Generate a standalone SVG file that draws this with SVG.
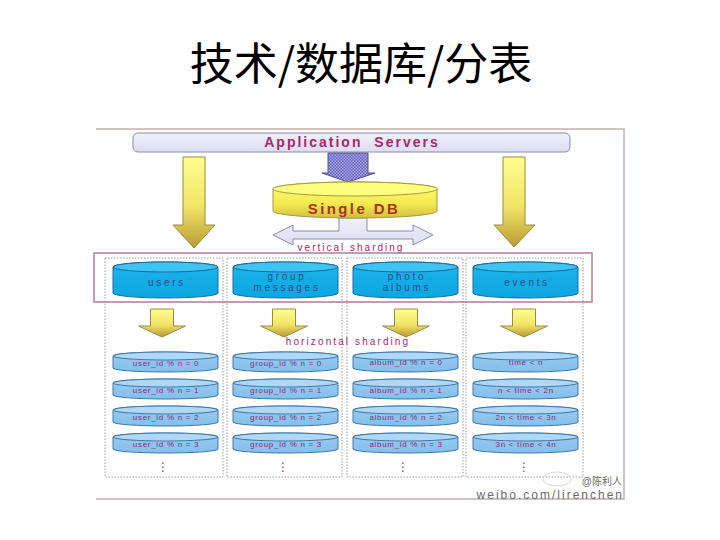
<svg xmlns="http://www.w3.org/2000/svg" width="720" height="540" viewBox="0 0 720 540">
  <style>
    .title { font-family: "Noto Sans CJK SC", "Liberation Sans", sans-serif; font-size: 44px; fill: #000; }
    .lbl { font-family: "Liberation Sans", Arial, sans-serif; fill: #a8286a; }
    .dbl { font-family: "Liberation Sans", Arial, sans-serif; font-size: 10px; letter-spacing: 2.7px; fill: #2a4a8a; text-anchor: middle; }
    .shl { font-family: "Liberation Sans", Arial, sans-serif; font-size: 8px; letter-spacing: 0.7px; fill: #8a2a78; text-anchor: middle; }
    .dots { font-family: "DejaVu Sans", sans-serif; font-size: 12px; fill: #a03070; text-anchor: middle; }
    .col { fill: none; stroke: #9a9a9a; stroke-width: 1; stroke-dasharray: 1.5 1.5; }
    .yarrow { fill: url(#gYellow); stroke: #9a8a40; stroke-width: 1; }
    .bigbody { fill: url(#gBlue); stroke: #1a6aa0; stroke-width: 1; }
    .bigtop { fill: #3ec4f2; stroke: #1a6aa0; stroke-width: 1; }
    .shbody { fill: url(#gLightBlue); stroke: #3c78a8; stroke-width: 1; }
    .shtop { fill: #b0d8f6; stroke: #3c78a8; stroke-width: 1; }
    .wm { font-family: "Liberation Sans", "Noto Sans CJK SC", sans-serif; fill: #6a6a6a; }
  </style>
  <defs>
    <linearGradient id="gYellow" x1="0" y1="0" x2="0" y2="1">
      <stop offset="0" stop-color="#ffff90"/>
      <stop offset="0.55" stop-color="#f2e468"/>
      <stop offset="1" stop-color="#b89c34"/>
    </linearGradient>
    <linearGradient id="gDB" x1="0" y1="0" x2="0" y2="1">
      <stop offset="0" stop-color="#ffff70"/>
      <stop offset="0.6" stop-color="#f4ea50"/>
      <stop offset="1" stop-color="#d2c040"/>
    </linearGradient>
    <linearGradient id="gBlue" x1="0" y1="0" x2="0" y2="1">
      <stop offset="0" stop-color="#1cb4ec"/>
      <stop offset="1" stop-color="#0ca6e0"/>
    </linearGradient>
    <linearGradient id="gLightBlue" x1="0" y1="0" x2="0" y2="1">
      <stop offset="0" stop-color="#9accf2"/>
      <stop offset="1" stop-color="#84bfea"/>
    </linearGradient>
    <linearGradient id="gLav" x1="0" y1="0" x2="0" y2="1">
      <stop offset="0" stop-color="#f0f0fc"/>
      <stop offset="1" stop-color="#dcdcf4"/>
    </linearGradient>
    <pattern id="pCheck" width="3" height="3" patternUnits="userSpaceOnUse">
      <rect width="3" height="3" fill="#6464c0"/>
      <rect width="1.5" height="1.5" fill="#a8a8e8"/>
      <rect x="1.5" y="1.5" width="1.5" height="1.5" fill="#a8a8e8"/>
    </pattern>
    <!-- tall cylinder, 105 x 36 -->
    <g id="cylBig">
      <path class="bigbody" d="M0,5 A52.5,5 0 0 1 105,5 V31 A52.5,5 0 0 1 0,31 Z"/>
      <ellipse class="bigtop" cx="52.5" cy="5" rx="52.5" ry="5"/>
    </g>
    <!-- flat shard cylinder, 105 x 20 -->
    <g id="cylShard">
      <path class="shbody" d="M0,4 A52.5,4 0 0 1 105,4 V16 A52.5,4 0 0 1 0,16 Z"/>
      <ellipse class="shtop" cx="52.5" cy="4" rx="52.5" ry="4"/>
    </g>
    <!-- small down arrow, tip at (0,28) -->
    <path id="arrowSmall" class="yarrow" d="M-11.5,0 H11.5 V17 H23.5 L0,28 L-23.5,17 H-11.5 Z"/>
  </defs>

  <text class="title" x="361" y="80" text-anchor="middle">技术/数据库/分表</text>

  <!-- outer frame -->
  <path d="M96,129 H624 V499 H96" fill="none" stroke="#c4aeae" stroke-width="1.5"/>

  <!-- column frames -->
  <g id="columns">
    <rect class="col" x="105" y="258" width="118" height="219"/>
    <rect class="col" x="227" y="258" width="115" height="219"/>
    <rect class="col" x="347" y="258" width="116" height="219"/>
    <rect class="col" x="466" y="258" width="117" height="219"/>
  </g>

  <g id="app-servers">
    <rect x="133" y="133" width="437" height="19" rx="5" fill="url(#gLav)" stroke="#8c8ca4" stroke-width="1"/>
    <text class="lbl" x="352" y="147" text-anchor="middle" font-size="14" font-weight="bold" letter-spacing="2" word-spacing="6">Application Servers</text>
  </g>

  <g id="connectors">
    <!-- app servers to single DB -->
    <path d="M328,153 H368 V173 H375 L348,182 L322,173 H328 Z" fill="url(#pCheck)" stroke="#50508a" stroke-width="1"/>
    <!-- app servers bypass arrows -->
    <path class="yarrow" d="M183,157 H205 V225 H215 L194,248 L173,225 H183 Z"/>
    <path class="yarrow" d="M503,157 H525 V225 H535 L514,247 L494,225 H503 Z"/>
    <!-- vertical sharding split -->
    <path d="M339,218 H367 V231 H413 V225 L433,235 L413,245 V239 H293 V245 L273,235 L293,225 V231 H339 Z" fill="url(#gLav)" stroke="#8c8ca4" stroke-width="1"/>
    <!-- horizontal sharding arrows -->
    <use href="#arrowSmall" transform="translate(162,309)"/>
    <use href="#arrowSmall" transform="translate(284,309)"/>
    <use href="#arrowSmall" transform="translate(406,309)"/>
    <use href="#arrowSmall" transform="translate(524,309)"/>
  </g>

  <g id="single-db">
    <path d="M273,189 A82,7 0 0 1 437,189 V211 A82,7 0 0 1 273,211 Z" fill="url(#gDB)" stroke="#a89a40" stroke-width="1"/>
    <ellipse cx="355" cy="189" rx="82" ry="7" fill="#ffff80" stroke="#a89a40" stroke-width="1"/>
    <text class="lbl" x="354" y="214" text-anchor="middle" font-size="15" font-weight="bold" letter-spacing="2.4" style="fill:#a83418">Single DB</text>
  </g>

  <text class="lbl" x="351" y="251" text-anchor="middle" font-size="10" letter-spacing="2">vertical sharding</text>

  <!-- vertical sharding frame -->
  <rect x="94" y="253" width="498" height="49" fill="none" stroke="#b47a9c" stroke-width="1.5"/>

  <g id="users">
    <use href="#cylBig" x="113" y="262"/>
    <text class="dbl" x="167" y="286">users</text>
  </g>
  <g id="group-messages">
    <use href="#cylBig" x="233" y="262"/>
    <text class="dbl" x="287" y="280">group</text>
    <text class="dbl" x="287" y="291">messages</text>
  </g>
  <g id="photo-albums">
    <use href="#cylBig" x="353" y="262"/>
    <text class="dbl" x="407" y="280">photo</text>
    <text class="dbl" x="407" y="291">albums</text>
  </g>
  <g id="events">
    <use href="#cylBig" x="473" y="262"/>
    <text class="dbl" x="527" y="286">events</text>
  </g>

  <text class="lbl" x="348" y="345" text-anchor="middle" font-size="10" letter-spacing="2.1">horizontal sharding</text>

  <g id="users-shards">
    <use href="#cylShard" x="113" y="352"/><text class="shl" x="166" y="366">user_id % n = 0</text>
    <use href="#cylShard" x="113" y="379"/><text class="shl" x="166" y="393">user_id % n = 1</text>
    <use href="#cylShard" x="113" y="406"/><text class="shl" x="166" y="420">user_id % n = 2</text>
    <use href="#cylShard" x="113" y="433"/><text class="shl" x="166" y="447">user_id % n = 3</text>
    <text class="dots" x="163" y="471">⋮</text>
  </g>
  <g id="group-shards">
    <use href="#cylShard" x="233" y="352"/><text class="shl" x="286" y="366">group_id % n = 0</text>
    <use href="#cylShard" x="233" y="379"/><text class="shl" x="286" y="393">group_id % n = 1</text>
    <use href="#cylShard" x="233" y="406"/><text class="shl" x="286" y="420">group_id % n = 2</text>
    <use href="#cylShard" x="233" y="433"/><text class="shl" x="286" y="447">group_id % n = 3</text>
    <text class="dots" x="283" y="471">⋮</text>
  </g>
  <g id="album-shards">
    <use href="#cylShard" x="353" y="352"/><text class="shl" x="406" y="365">album_id % n = 0</text>
    <use href="#cylShard" x="353" y="379"/><text class="shl" x="406" y="393">album_id % n = 1</text>
    <use href="#cylShard" x="353" y="406"/><text class="shl" x="406" y="420">album_id % n = 2</text>
    <use href="#cylShard" x="353" y="433"/><text class="shl" x="406" y="447">album_id % n = 3</text>
    <text class="dots" x="403" y="471">⋮</text>
  </g>
  <g id="event-shards">
    <use href="#cylShard" x="473" y="352"/><text class="shl" x="526" y="365">time &lt; n</text>
    <use href="#cylShard" x="473" y="379"/><text class="shl" x="526" y="393">n &lt; time &lt; 2n</text>
    <use href="#cylShard" x="473" y="406"/><text class="shl" x="526" y="420">2n &lt; time &lt; 3n</text>
    <use href="#cylShard" x="473" y="433"/><text class="shl" x="526" y="447">3n &lt; time &lt; 4n</text>
    <text class="dots" x="524" y="471">⋮</text>
  </g>

  <!-- watermark -->
  <g id="watermark">
    <ellipse cx="557" cy="479" rx="14" ry="7" fill="none" stroke="#d8d8d8" stroke-width="1"/>
    <text class="wm" x="622" y="485" text-anchor="end" font-size="10">@陈利人</text>
    <text class="wm" x="624" y="499" text-anchor="end" font-size="12" letter-spacing="2">weibo.com/lirenchen</text>
  </g>
</svg>
